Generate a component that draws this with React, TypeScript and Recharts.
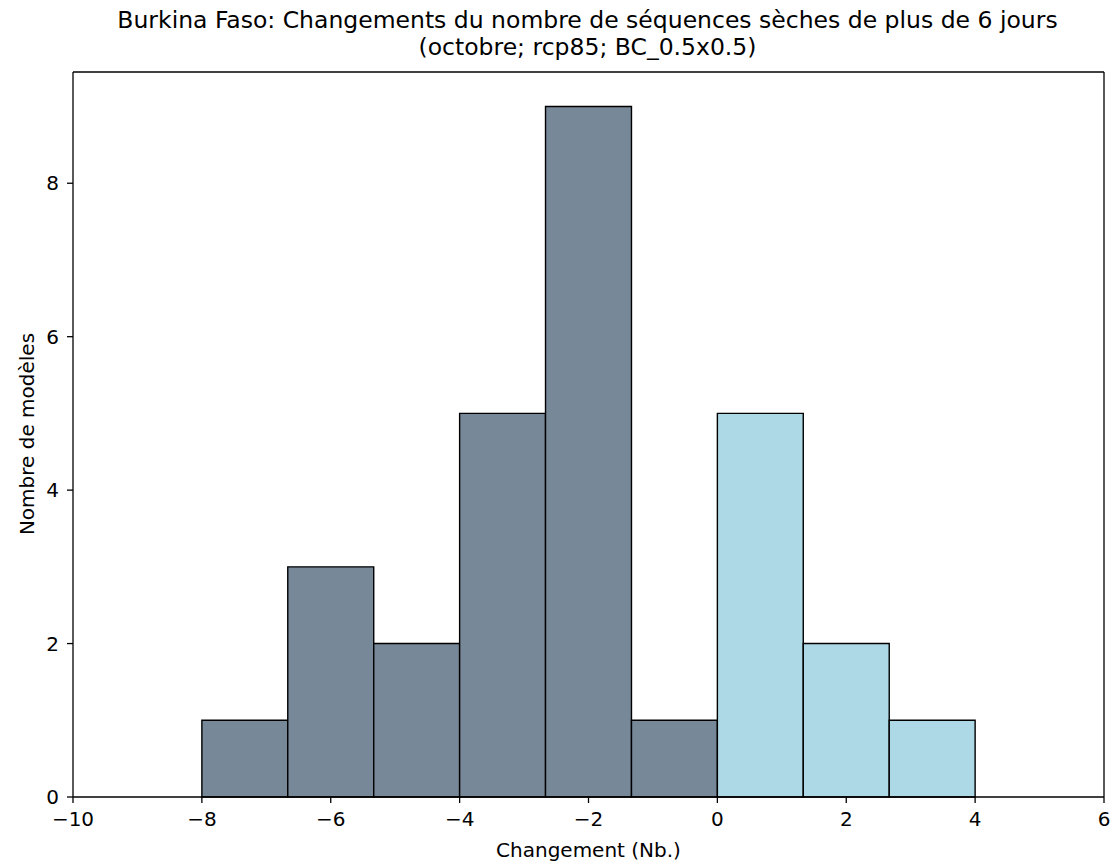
import React from 'react';
import { ComposedChart, XAxis, YAxis, ReferenceArea, ReferenceLine } from 'recharts';

// histogram bins (edges) and model counts
const binStarts = [-8, -6.667, -5.333, -4, -2.667, -1.333, 0, 1.333, 2.667];
const binEnds = [-6.667, -5.333, -4, -2.667, -1.333, 0, 1.333, 2.667, 4];
const counts = [1, 3, 2, 5, 9, 1, 5, 2, 1];

const xTicks = [-10, -8, -6, -4, -2, 0, 2, 4, 6];
const yTicks = [0, 2, 4, 6, 8];
const xDomain = [-10, 6];
const yDomain = [0, 9.45];

const FONT = '"DejaVu Sans", sans-serif';
const DARK = '#778899';
const LIGHT = '#ADD8E6';

const bins = binStarts.map((start, i) => ({
  start,
  end: binEnds[i],
  count: counts[i],
}));

const fmt = (v: number) => (v < 0 ? '\u2212' + Math.abs(v) : String(v));

const tickStyle = { fill: '#000', fontSize: 20, fontFamily: FONT };
const spine = { stroke: '#000', strokeWidth: 1.3 };

export default function App() {
  return (
    <div style={{ position: 'absolute', left: 0, top: 0, width: 1115, height: 865, background: '#fff' }}>
      <div
        style={{
          position: 'absolute',
          left: 0,
          top: 7,
          width: 1175,
          textAlign: 'center',
          fontFamily: FONT,
          fontSize: 23.5,
          lineHeight: '27px',
          color: '#000',
        }}
      >
        <div>Burkina Faso: Changements du nombre de séquences sèches de plus de 6 jours</div>
        <div>(octobre; rcp85; BC_0.5x0.5)</div>
      </div>
      <ComposedChart
        width={1115}
        height={865}
        data={bins}
        margin={{ top: 72, right: 11, left: 0, bottom: 0 }}
      >
        <XAxis
          type="number"
          dataKey="start"
          domain={xDomain}
          ticks={xTicks}
          tickFormatter={fmt}
          allowDataOverflow
          height={68}
          tick={tickStyle}
          tickSize={6}
          tickMargin={9}
          tickLine={spine}
          axisLine={spine}
        />
        <YAxis
          type="number"
          domain={yDomain}
          ticks={yTicks}
          allowDataOverflow
          width={73}
          tick={tickStyle}
          tickSize={6}
          tickMargin={8}
          tickLine={spine}
          axisLine={spine}
        />
        {bins.map((b, i) => (
          <ReferenceArea
            key={i}
            x1={b.start}
            x2={b.end}
            y1={0}
            y2={b.count}
            fill={b.start >= 0 ? LIGHT : DARK}
            fillOpacity={1}
            stroke="#000"
            strokeWidth={1.4}
            ifOverflow="visible"
          />
        ))}
        {/* top and right spines */}
        <ReferenceLine y={yDomain[1]} stroke="#000" strokeWidth={1.3} ifOverflow="visible" />
        <ReferenceLine x={xDomain[1]} stroke="#000" strokeWidth={1.3} ifOverflow="visible" />
      </ComposedChart>
      <div
        style={{
          position: 'absolute',
          left: 73,
          width: 1031,
          top: 838,
          textAlign: 'center',
          fontFamily: FONT,
          fontSize: 20,
          color: '#000',
        }}
      >
        Changement (Nb.)
      </div>
      <div
        style={{
          position: 'absolute',
          left: 27,
          top: 434,
          transform: 'translate(-50%, -50%) rotate(-90deg)',
          whiteSpace: 'nowrap',
          fontFamily: FONT,
          fontSize: 20,
          color: '#000',
        }}
      >
        Nombre de modèles
      </div>
    </div>
  );
}
